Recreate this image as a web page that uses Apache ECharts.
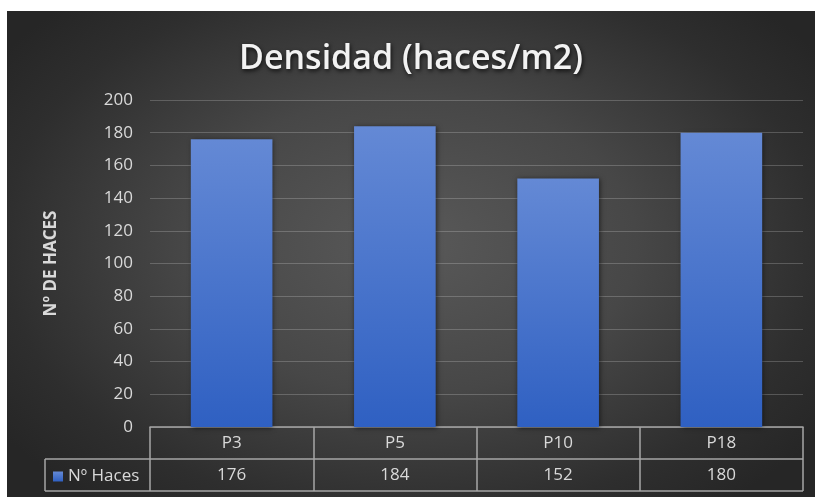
<!DOCTYPE html>
<html>
<head>
<meta charset="utf-8">
<script src="https://cdn.jsdelivr.net/npm/echarts@6/dist/echarts.min.js"></script>
<style>
  html, body { margin: 0; padding: 0; background: #ffffff; }
  #chart {
    position: absolute; left: 7px; top: 11px; width: 808px; height: 486px;
    background: radial-gradient(ellipse 62% 68% at 50% 48%, #595959 0%, #474747 45%, #2e2e2e 82%, #262626 100%);
  }
</style>
</head>
<body>
<div id="chart"></div>
<script>
// Plot density per sampling point
const titleText = 'Densidad (haces/m2)';
const yAxisTitle = 'Nº DE HACES';
const seriesName = 'Nº Haces';
const categories = ['P3', 'P5', 'P10', 'P18'];
const haces = [176, 184, 152, 180];
const yTicks = { min: 0, max: 200, step: 20 };

const FONT = '"Open Sans", "Noto Sans", sans-serif';
const TEXT = '#d9d9d9';
const BORDER = '#a6a6a6';
const LABEL_SIZE = 17;

const chart = echarts.init(document.getElementById('chart'), null, { renderer: 'canvas' });

const gridLeft = 143, gridRight = 12, gridTop = 89, gridBottom = 70;
const W = 808, H = 486;
const axisY = H - gridBottom;        // category axis line
const rowH = 32;                     // data table row height
const tableLeft = 38;                // left edge of legend cell
const tableRight = W - gridRight;

chart.setOption({
  animation: false,
  textStyle: { fontFamily: FONT },
  title: {
    text: titleText,
    left: 'center',
    top: 26,
    textStyle: {
      color: '#f2f2f2', fontSize: 34, fontWeight: 600, fontFamily: FONT,
      textShadowColor: 'rgba(0,0,0,0.75)', textShadowBlur: 4, textShadowOffsetX: 1, textShadowOffsetY: 2
    }
  },
  legend: {
    data: [seriesName],
    left: 46, top: axisY + rowH + 9, padding: 0,
    icon: 'rect', itemWidth: 10, itemHeight: 10, itemGap: 5,
    textStyle: { color: TEXT, fontSize: LABEL_SIZE, fontFamily: FONT },
    selectedMode: false
  },
  grid: { left: gridLeft, right: gridRight, top: gridTop, bottom: gridBottom, containLabel: false },
  xAxis: {
    type: 'category',
    data: categories,
    axisLine: { show: true, lineStyle: { color: BORDER, width: 1.5 } },
    axisTick: { show: true, length: rowH * 2, lineStyle: { color: BORDER, width: 1.5 } },
    axisLabel: {
      margin: 0,
      formatter: (v, i) => `{c|${v}}\n{v|${haces[i]}}`,
      rich: {
        c: { color: TEXT, fontSize: LABEL_SIZE, lineHeight: rowH, fontFamily: FONT },
        v: { color: TEXT, fontSize: LABEL_SIZE, lineHeight: rowH, fontFamily: FONT }
      }
    }
  },
  yAxis: {
    type: 'value',
    min: yTicks.min, max: yTicks.max, interval: yTicks.step,
    name: yAxisTitle,
    nameLocation: 'middle',
    nameRotate: 90,
    nameGap: 90,
    nameTextStyle: { color: TEXT, fontSize: 17, fontWeight: 'bold', fontFamily: FONT },
    axisLine: { show: false },
    axisTick: { show: false },
    axisLabel: { color: TEXT, fontSize: LABEL_SIZE, margin: 17, fontFamily: FONT },
    splitLine: { lineStyle: { color: 'rgba(255,255,255,0.2)', width: 1.2 } }
  },
  series: [{
    name: seriesName,
    type: 'bar',
    data: haces,
    barWidth: '50%',
    itemStyle: {
      color: new echarts.graphic.LinearGradient(0, 0, 0, 1, [
        { offset: 0, color: '#6489d5' },
        { offset: 1, color: '#2f60c2' }
      ]),
      shadowColor: 'rgba(0,0,0,0.55)', shadowBlur: 5, shadowOffsetX: 1, shadowOffsetY: 1
    }
  }],
  graphic: [
    // data table rules: row divider, bottom edge, legend cell left edge
    { type: 'line', shape: { x1: tableLeft, y1: axisY + rowH, x2: tableRight, y2: axisY + rowH },
      style: { stroke: BORDER, lineWidth: 1.5 } },
    { type: 'line', shape: { x1: tableLeft, y1: axisY + rowH * 2, x2: tableRight, y2: axisY + rowH * 2 },
      style: { stroke: BORDER, lineWidth: 1.5 } },
    { type: 'line', shape: { x1: tableLeft, y1: axisY + rowH, x2: tableLeft, y2: axisY + rowH * 2 },
      style: { stroke: BORDER, lineWidth: 1.5 } }
  ]
});
</script>
</body>
</html>
